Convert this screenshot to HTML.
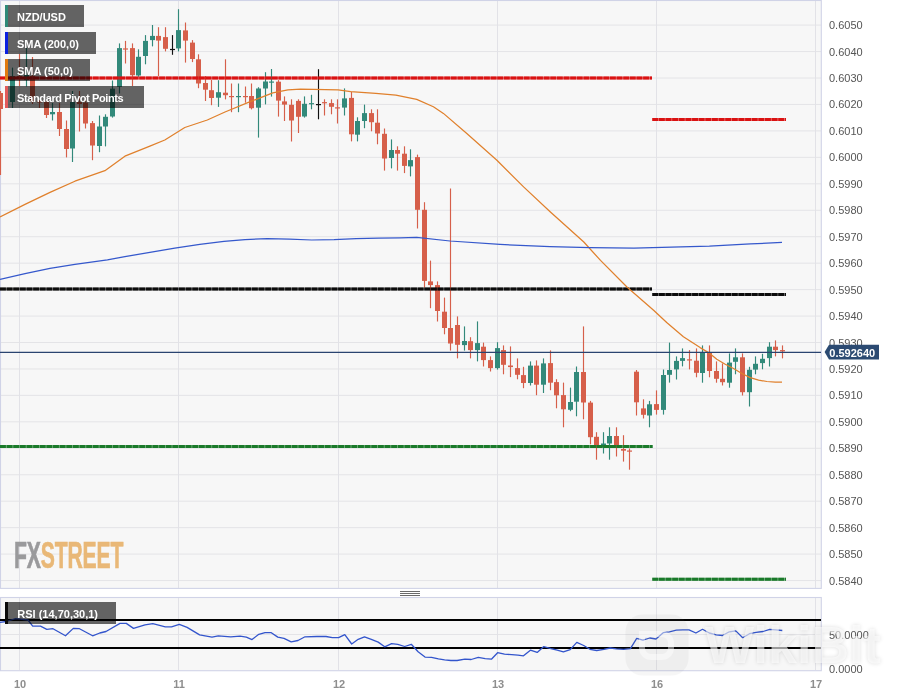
<!DOCTYPE html>
<html><head><meta charset="utf-8"><title>NZD/USD</title>
<style>
html,body{margin:0;padding:0;background:#fff;}
body{width:898px;height:697px;overflow:hidden;position:relative;font-family:"Liberation Sans",Arial,sans-serif;}
svg{position:absolute;left:0;top:0;}
svg text{font-family:"Liberation Sans",Arial,sans-serif;}
.lbl{position:absolute;left:5px;height:21.6px;background:rgba(0,0,0,0.6);color:#fff;font-weight:bold;font-size:11px;line-height:24.6px;box-sizing:border-box;padding-left:12px;white-space:nowrap;}
.lbl i{position:absolute;left:0;top:0;width:3px;height:100%;display:block;}
.fx{position:absolute;left:14.3px;top:537.9px;font-weight:bold;font-size:36px;line-height:36px;-webkit-text-stroke:0.7px;transform:scaleX(0.588);transform-origin:0 0;letter-spacing:-0.3px;white-space:nowrap;}
.wm{position:absolute;left:705px;top:618.6px;font-weight:bold;font-size:52px;line-height:52px;color:rgba(255,255,255,0.6);text-shadow:0 0 4px rgba(0,0,0,0.13);white-space:nowrap;}
</style></head><body>
<svg width="898" height="697" viewBox="0 0 898 697">
<rect x="0" y="0" width="898" height="697" fill="#ffffff"/>
<rect x="0.5" y="0.5" width="821" height="588" fill="#f7f7f7"/>
<rect x="0.5" y="597.5" width="821" height="73" fill="#f7f7f7"/>
<g stroke="#e4e4e7" stroke-width="1"><line x1="0" y1="25.10" x2="821" y2="25.10"/><line x1="0" y1="51.55" x2="821" y2="51.55"/><line x1="0" y1="78.00" x2="821" y2="78.00"/><line x1="0" y1="104.45" x2="821" y2="104.45"/><line x1="0" y1="130.90" x2="821" y2="130.90"/><line x1="0" y1="157.35" x2="821" y2="157.35"/><line x1="0" y1="183.80" x2="821" y2="183.80"/><line x1="0" y1="210.25" x2="821" y2="210.25"/><line x1="0" y1="236.70" x2="821" y2="236.70"/><line x1="0" y1="263.15" x2="821" y2="263.15"/><line x1="0" y1="289.60" x2="821" y2="289.60"/><line x1="0" y1="316.05" x2="821" y2="316.05"/><line x1="0" y1="342.50" x2="821" y2="342.50"/><line x1="0" y1="368.95" x2="821" y2="368.95"/><line x1="0" y1="395.40" x2="821" y2="395.40"/><line x1="0" y1="421.85" x2="821" y2="421.85"/><line x1="0" y1="448.30" x2="821" y2="448.30"/><line x1="0" y1="474.75" x2="821" y2="474.75"/><line x1="0" y1="501.20" x2="821" y2="501.20"/><line x1="0" y1="527.65" x2="821" y2="527.65"/><line x1="0" y1="554.10" x2="821" y2="554.10"/><line x1="0" y1="580.55" x2="821" y2="580.55"/><line x1="0" y1="634.5" x2="821" y2="634.5"/></g>
<g stroke="#e2e2e7" stroke-width="1"><line x1="19.5" y1="1" x2="19.5" y2="588"/><line x1="19.5" y1="598" x2="19.5" y2="670"/><line x1="178.5" y1="1" x2="178.5" y2="588"/><line x1="178.5" y1="598" x2="178.5" y2="670"/><line x1="338.5" y1="1" x2="338.5" y2="588"/><line x1="338.5" y1="598" x2="338.5" y2="670"/><line x1="497.5" y1="1" x2="497.5" y2="588"/><line x1="497.5" y1="598" x2="497.5" y2="670"/><line x1="656.5" y1="1" x2="656.5" y2="588"/><line x1="656.5" y1="598" x2="656.5" y2="670"/><line x1="815.5" y1="1" x2="815.5" y2="588"/><line x1="815.5" y1="598" x2="815.5" y2="670"/></g>
<g fill="none" stroke="#d0d3e7" stroke-width="1.1"><rect x="0.5" y="0.5" width="820.8" height="587.9"/><rect x="0.5" y="597.5" width="820.8" height="73.2"/></g>
<g shape-rendering="auto">
<line x1="0.5" y1="91.0" x2="0.5" y2="175.0" stroke="#d65f4a" stroke-width="1.15"/>
<rect x="-2.0" y="93.0" width="5" height="16.0" fill="#d65f4a"/>
<line x1="12.5" y1="67.6" x2="12.5" y2="108.0" stroke="#32897a" stroke-width="1.15"/>
<rect x="10.0" y="76.0" width="5" height="26.0" fill="#32897a"/>
<line x1="19.5" y1="54.0" x2="19.5" y2="86.0" stroke="#d65f4a" stroke-width="1.15"/>
<rect x="17.0" y="76.0" width="5" height="2.0" fill="#d65f4a"/>
<line x1="26.5" y1="48.0" x2="26.5" y2="86.5" stroke="#32897a" stroke-width="1.15"/>
<rect x="24.0" y="75.0" width="5" height="5.0" fill="#32897a"/>
<line x1="32.5" y1="57.0" x2="32.5" y2="104.0" stroke="#d65f4a" stroke-width="1.15"/>
<rect x="30.0" y="76.0" width="5" height="26.0" fill="#d65f4a"/>
<line x1="39.5" y1="100.0" x2="39.5" y2="108.0" stroke="#d65f4a" stroke-width="1.15"/>
<rect x="37.0" y="101.0" width="5" height="1.5" fill="#d65f4a"/>
<line x1="46.5" y1="100.0" x2="46.5" y2="118.0" stroke="#d65f4a" stroke-width="1.15"/>
<rect x="44.0" y="102.0" width="5" height="13.0" fill="#d65f4a"/>
<line x1="52.5" y1="103.0" x2="52.5" y2="120.5" stroke="#32897a" stroke-width="1.15"/>
<rect x="50.0" y="112.0" width="5" height="2.3" fill="#32897a"/>
<line x1="59.5" y1="103.0" x2="59.5" y2="136.0" stroke="#d65f4a" stroke-width="1.15"/>
<rect x="57.0" y="112.0" width="5" height="17.0" fill="#d65f4a"/>
<line x1="66.5" y1="120.5" x2="66.5" y2="157.4" stroke="#d65f4a" stroke-width="1.15"/>
<rect x="64.0" y="129.0" width="5" height="20.0" fill="#d65f4a"/>
<line x1="72.5" y1="91.0" x2="72.5" y2="162.0" stroke="#32897a" stroke-width="1.15"/>
<rect x="70.0" y="102.0" width="5" height="46.5" fill="#32897a"/>
<line x1="79.5" y1="91.0" x2="79.5" y2="131.5" stroke="#d65f4a" stroke-width="1.15"/>
<rect x="77.0" y="102.0" width="5" height="2.0" fill="#d65f4a"/>
<line x1="85.5" y1="97.6" x2="85.5" y2="128.5" stroke="#d65f4a" stroke-width="1.15"/>
<rect x="83.0" y="102.6" width="5" height="20.9" fill="#d65f4a"/>
<line x1="92.5" y1="121.0" x2="92.5" y2="160.2" stroke="#d65f4a" stroke-width="1.15"/>
<rect x="90.0" y="123.1" width="5" height="22.4" fill="#d65f4a"/>
<line x1="99.5" y1="115.5" x2="99.5" y2="152.2" stroke="#32897a" stroke-width="1.15"/>
<rect x="97.0" y="126.5" width="5" height="19.5" fill="#32897a"/>
<line x1="105.5" y1="114.3" x2="105.5" y2="146.4" stroke="#32897a" stroke-width="1.15"/>
<rect x="103.0" y="116.8" width="5" height="9.7" fill="#32897a"/>
<line x1="112.5" y1="80.5" x2="112.5" y2="117.6" stroke="#32897a" stroke-width="1.15"/>
<rect x="110.0" y="88.7" width="5" height="27.8" fill="#32897a"/>
<line x1="119.5" y1="43.4" x2="119.5" y2="93.5" stroke="#32897a" stroke-width="1.15"/>
<rect x="117.0" y="48.1" width="5" height="38.8" fill="#32897a"/>
<line x1="125.5" y1="40.9" x2="125.5" y2="63.5" stroke="#d65f4a" stroke-width="1.15"/>
<rect x="123.0" y="48.4" width="5" height="1.2" fill="#d65f4a"/>
<line x1="132.5" y1="43.4" x2="132.5" y2="86.0" stroke="#d65f4a" stroke-width="1.15"/>
<rect x="130.0" y="48.1" width="5" height="27.1" fill="#d65f4a"/>
<line x1="138.5" y1="49.3" x2="138.5" y2="76.8" stroke="#32897a" stroke-width="1.15"/>
<rect x="136.0" y="56.8" width="5" height="18.7" fill="#32897a"/>
<line x1="145.5" y1="35.1" x2="145.5" y2="64.3" stroke="#32897a" stroke-width="1.15"/>
<rect x="143.0" y="40.9" width="5" height="15.1" fill="#32897a"/>
<line x1="152.5" y1="25.0" x2="152.5" y2="46.4" stroke="#32897a" stroke-width="1.15"/>
<rect x="150.0" y="35.9" width="5" height="4.2" fill="#32897a"/>
<line x1="158.5" y1="27.2" x2="158.5" y2="76.0" stroke="#d65f4a" stroke-width="1.15"/>
<rect x="156.0" y="35.9" width="5" height="4.7" fill="#d65f4a"/>
<line x1="165.5" y1="27.2" x2="165.5" y2="51.4" stroke="#d65f4a" stroke-width="1.15"/>
<rect x="163.0" y="37.1" width="5" height="11.7" fill="#d65f4a"/>
<line x1="172.5" y1="35.1" x2="172.5" y2="54.8" stroke="#111111" stroke-width="1.15"/>
<rect x="170.0" y="48.9" width="5" height="1.2" fill="#111111"/>
<line x1="178.5" y1="9.2" x2="178.5" y2="51.4" stroke="#32897a" stroke-width="1.15"/>
<rect x="176.0" y="30.1" width="5" height="18.3" fill="#32897a"/>
<line x1="185.5" y1="22.5" x2="185.5" y2="62.6" stroke="#d65f4a" stroke-width="1.15"/>
<rect x="183.0" y="30.4" width="5" height="10.2" fill="#d65f4a"/>
<line x1="192.5" y1="40.1" x2="192.5" y2="62.1" stroke="#d65f4a" stroke-width="1.15"/>
<rect x="190.0" y="42.6" width="5" height="16.4" fill="#d65f4a"/>
<line x1="198.5" y1="54.3" x2="198.5" y2="88.2" stroke="#d65f4a" stroke-width="1.15"/>
<rect x="196.0" y="59.3" width="5" height="24.2" fill="#d65f4a"/>
<line x1="205.5" y1="76.0" x2="205.5" y2="101.0" stroke="#d65f4a" stroke-width="1.15"/>
<rect x="203.0" y="83.0" width="5" height="6.7" fill="#d65f4a"/>
<line x1="211.5" y1="79.8" x2="211.5" y2="105.2" stroke="#d65f4a" stroke-width="1.15"/>
<rect x="209.0" y="90.2" width="5" height="7.8" fill="#d65f4a"/>
<line x1="218.5" y1="80.2" x2="218.5" y2="106.9" stroke="#32897a" stroke-width="1.15"/>
<rect x="216.0" y="92.2" width="5" height="5.5" fill="#32897a"/>
<line x1="225.5" y1="59.3" x2="225.5" y2="99.4" stroke="#d65f4a" stroke-width="1.15"/>
<rect x="223.0" y="92.7" width="5" height="2.5" fill="#d65f4a"/>
<line x1="231.5" y1="83.5" x2="231.5" y2="112.2" stroke="#d65f4a" stroke-width="1.15"/>
<rect x="229.0" y="96.0" width="5" height="1.2" fill="#d65f4a"/>
<line x1="238.5" y1="83.5" x2="238.5" y2="112.2" stroke="#32897a" stroke-width="1.15"/>
<rect x="236.0" y="96.0" width="5" height="1.2" fill="#32897a"/>
<line x1="245.5" y1="86.5" x2="245.5" y2="102.7" stroke="#d65f4a" stroke-width="1.15"/>
<rect x="243.0" y="96.0" width="5" height="1.2" fill="#d65f4a"/>
<line x1="251.5" y1="83.5" x2="251.5" y2="109.4" stroke="#d65f4a" stroke-width="1.15"/>
<rect x="249.0" y="96.0" width="5" height="12.2" fill="#d65f4a"/>
<line x1="258.5" y1="87.2" x2="258.5" y2="137.6" stroke="#32897a" stroke-width="1.15"/>
<rect x="256.0" y="88.5" width="5" height="19.2" fill="#32897a"/>
<line x1="265.5" y1="72.2" x2="265.5" y2="104.4" stroke="#32897a" stroke-width="1.15"/>
<rect x="263.0" y="81.5" width="5" height="7.0" fill="#32897a"/>
<line x1="271.5" y1="69.0" x2="271.5" y2="96.6" stroke="#32897a" stroke-width="1.15"/>
<rect x="269.0" y="81.5" width="5" height="1.2" fill="#32897a"/>
<line x1="278.5" y1="80.1" x2="278.5" y2="116.6" stroke="#d65f4a" stroke-width="1.15"/>
<rect x="276.0" y="81.7" width="5" height="18.9" fill="#d65f4a"/>
<line x1="284.5" y1="96.4" x2="284.5" y2="121.0" stroke="#d65f4a" stroke-width="1.15"/>
<rect x="282.0" y="101.4" width="5" height="3.2" fill="#d65f4a"/>
<line x1="291.5" y1="99.3" x2="291.5" y2="141.5" stroke="#d65f4a" stroke-width="1.15"/>
<rect x="289.0" y="104.8" width="5" height="15.7" fill="#d65f4a"/>
<line x1="298.5" y1="99.3" x2="298.5" y2="133.0" stroke="#d65f4a" stroke-width="1.15"/>
<rect x="296.0" y="100.9" width="5" height="15.9" fill="#d65f4a"/>
<line x1="304.5" y1="96.4" x2="304.5" y2="117.6" stroke="#32897a" stroke-width="1.15"/>
<rect x="302.0" y="103.8" width="5" height="12.7" fill="#32897a"/>
<line x1="311.5" y1="94.8" x2="311.5" y2="109.3" stroke="#32897a" stroke-width="1.15"/>
<rect x="309.0" y="103.1" width="5" height="1.2" fill="#32897a"/>
<line x1="318.5" y1="69.2" x2="318.5" y2="119.3" stroke="#111111" stroke-width="1.15"/>
<rect x="316.0" y="104.0" width="5" height="1.2" fill="#111111"/>
<line x1="324.5" y1="99.3" x2="324.5" y2="115.5" stroke="#d65f4a" stroke-width="1.15"/>
<rect x="322.0" y="102.1" width="5" height="1.2" fill="#d65f4a"/>
<line x1="331.5" y1="99.3" x2="331.5" y2="114.3" stroke="#d65f4a" stroke-width="1.15"/>
<rect x="329.0" y="103.1" width="5" height="3.7" fill="#d65f4a"/>
<line x1="337.5" y1="99.3" x2="337.5" y2="123.5" stroke="#d65f4a" stroke-width="1.15"/>
<rect x="335.0" y="107.3" width="5" height="1.2" fill="#d65f4a"/>
<line x1="344.5" y1="88.4" x2="344.5" y2="115.5" stroke="#32897a" stroke-width="1.15"/>
<rect x="342.0" y="98.4" width="5" height="9.2" fill="#32897a"/>
<line x1="351.5" y1="91.8" x2="351.5" y2="141.4" stroke="#d65f4a" stroke-width="1.15"/>
<rect x="349.0" y="97.9" width="5" height="36.4" fill="#d65f4a"/>
<line x1="357.5" y1="117.3" x2="357.5" y2="141.4" stroke="#32897a" stroke-width="1.15"/>
<rect x="355.0" y="121.0" width="5" height="13.7" fill="#32897a"/>
<line x1="364.5" y1="104.6" x2="364.5" y2="128.2" stroke="#32897a" stroke-width="1.15"/>
<rect x="362.0" y="113.1" width="5" height="7.9" fill="#32897a"/>
<line x1="371.5" y1="109.3" x2="371.5" y2="131.3" stroke="#d65f4a" stroke-width="1.15"/>
<rect x="369.0" y="113.1" width="5" height="9.1" fill="#d65f4a"/>
<line x1="377.5" y1="109.3" x2="377.5" y2="144.3" stroke="#d65f4a" stroke-width="1.15"/>
<rect x="375.0" y="122.7" width="5" height="10.8" fill="#d65f4a"/>
<line x1="384.5" y1="128.5" x2="384.5" y2="170.6" stroke="#d65f4a" stroke-width="1.15"/>
<rect x="382.0" y="133.8" width="5" height="24.7" fill="#d65f4a"/>
<line x1="391.5" y1="139.4" x2="391.5" y2="168.4" stroke="#32897a" stroke-width="1.15"/>
<rect x="389.0" y="150.0" width="5" height="8.0" fill="#32897a"/>
<line x1="397.5" y1="146.3" x2="397.5" y2="170.6" stroke="#d65f4a" stroke-width="1.15"/>
<rect x="395.0" y="150.0" width="5" height="3.7" fill="#d65f4a"/>
<line x1="404.5" y1="146.3" x2="404.5" y2="173.1" stroke="#d65f4a" stroke-width="1.15"/>
<rect x="402.0" y="153.7" width="5" height="12.2" fill="#d65f4a"/>
<line x1="410.5" y1="149.3" x2="410.5" y2="176.4" stroke="#32897a" stroke-width="1.15"/>
<rect x="408.0" y="160.1" width="5" height="6.3" fill="#32897a"/>
<line x1="417.5" y1="154.6" x2="417.5" y2="228.5" stroke="#d65f4a" stroke-width="1.15"/>
<rect x="415.0" y="157.1" width="5" height="52.7" fill="#d65f4a"/>
<line x1="424.5" y1="202.2" x2="424.5" y2="287.6" stroke="#d65f4a" stroke-width="1.15"/>
<rect x="422.0" y="209.8" width="5" height="71.1" fill="#d65f4a"/>
<line x1="430.5" y1="260.6" x2="430.5" y2="308.2" stroke="#d65f4a" stroke-width="1.15"/>
<rect x="428.0" y="281.4" width="5" height="3.7" fill="#d65f4a"/>
<line x1="437.5" y1="281.4" x2="437.5" y2="321.5" stroke="#d65f4a" stroke-width="1.15"/>
<rect x="435.0" y="285.1" width="5" height="25.9" fill="#d65f4a"/>
<line x1="444.5" y1="297.6" x2="444.5" y2="334.3" stroke="#d65f4a" stroke-width="1.15"/>
<rect x="442.0" y="311.7" width="5" height="16.3" fill="#d65f4a"/>
<line x1="450.5" y1="188.5" x2="450.5" y2="350.6" stroke="#d65f4a" stroke-width="1.15"/>
<rect x="448.0" y="328.0" width="5" height="15.5" fill="#d65f4a"/>
<line x1="457.5" y1="316.4" x2="457.5" y2="358.4" stroke="#d65f4a" stroke-width="1.15"/>
<rect x="455.0" y="325.0" width="5" height="19.8" fill="#d65f4a"/>
<line x1="464.5" y1="326.4" x2="464.5" y2="350.6" stroke="#32897a" stroke-width="1.15"/>
<rect x="462.0" y="341.0" width="5" height="4.1" fill="#32897a"/>
<line x1="470.5" y1="337.2" x2="470.5" y2="358.4" stroke="#d65f4a" stroke-width="1.15"/>
<rect x="468.0" y="341.2" width="5" height="8.9" fill="#d65f4a"/>
<line x1="477.5" y1="321.4" x2="477.5" y2="361.4" stroke="#32897a" stroke-width="1.15"/>
<rect x="475.0" y="343.1" width="5" height="7.0" fill="#32897a"/>
<line x1="483.5" y1="342.6" x2="483.5" y2="366.5" stroke="#d65f4a" stroke-width="1.15"/>
<rect x="481.0" y="346.7" width="5" height="13.4" fill="#d65f4a"/>
<line x1="490.5" y1="356.4" x2="490.5" y2="371.5" stroke="#d65f4a" stroke-width="1.15"/>
<rect x="488.0" y="360.1" width="5" height="8.0" fill="#d65f4a"/>
<line x1="497.5" y1="342.2" x2="497.5" y2="369.6" stroke="#32897a" stroke-width="1.15"/>
<rect x="495.0" y="348.1" width="5" height="20.0" fill="#32897a"/>
<line x1="503.5" y1="345.4" x2="503.5" y2="374.3" stroke="#d65f4a" stroke-width="1.15"/>
<rect x="501.0" y="350.1" width="5" height="14.7" fill="#d65f4a"/>
<line x1="510.5" y1="346.4" x2="510.5" y2="377.1" stroke="#d65f4a" stroke-width="1.15"/>
<rect x="508.0" y="365.5" width="5" height="1.6" fill="#d65f4a"/>
<line x1="517.5" y1="358.4" x2="517.5" y2="379.3" stroke="#d65f4a" stroke-width="1.15"/>
<rect x="515.0" y="368.1" width="5" height="6.7" fill="#d65f4a"/>
<line x1="523.5" y1="366.8" x2="523.5" y2="388.2" stroke="#d65f4a" stroke-width="1.15"/>
<rect x="521.0" y="375.1" width="5" height="7.9" fill="#d65f4a"/>
<line x1="530.5" y1="361.4" x2="530.5" y2="385.5" stroke="#32897a" stroke-width="1.15"/>
<rect x="528.0" y="365.6" width="5" height="17.4" fill="#32897a"/>
<line x1="536.5" y1="360.4" x2="536.5" y2="395.2" stroke="#d65f4a" stroke-width="1.15"/>
<rect x="534.0" y="365.6" width="5" height="19.1" fill="#d65f4a"/>
<line x1="543.5" y1="358.4" x2="543.5" y2="393.0" stroke="#32897a" stroke-width="1.15"/>
<rect x="541.0" y="363.4" width="5" height="21.3" fill="#32897a"/>
<line x1="550.5" y1="350.4" x2="550.5" y2="390.2" stroke="#d65f4a" stroke-width="1.15"/>
<rect x="548.0" y="363.1" width="5" height="19.6" fill="#d65f4a"/>
<line x1="556.5" y1="379.2" x2="556.5" y2="408.3" stroke="#d65f4a" stroke-width="1.15"/>
<rect x="554.0" y="382.1" width="5" height="13.2" fill="#d65f4a"/>
<line x1="563.5" y1="382.6" x2="563.5" y2="427.3" stroke="#d65f4a" stroke-width="1.15"/>
<rect x="561.0" y="395.1" width="5" height="14.2" fill="#d65f4a"/>
<line x1="570.5" y1="387.6" x2="570.5" y2="411.2" stroke="#32897a" stroke-width="1.15"/>
<rect x="568.0" y="402.0" width="5" height="7.8" fill="#32897a"/>
<line x1="576.5" y1="366.5" x2="576.5" y2="416.3" stroke="#32897a" stroke-width="1.15"/>
<rect x="574.0" y="372.0" width="5" height="29.7" fill="#32897a"/>
<line x1="583.5" y1="326.4" x2="583.5" y2="419.3" stroke="#d65f4a" stroke-width="1.15"/>
<rect x="581.0" y="372.0" width="5" height="30.5" fill="#d65f4a"/>
<line x1="590.5" y1="400.9" x2="590.5" y2="444.3" stroke="#d65f4a" stroke-width="1.15"/>
<rect x="588.0" y="402.6" width="5" height="34.6" fill="#d65f4a"/>
<line x1="596.5" y1="432.2" x2="596.5" y2="459.7" stroke="#d65f4a" stroke-width="1.15"/>
<rect x="594.0" y="436.8" width="5" height="8.4" fill="#d65f4a"/>
<line x1="603.5" y1="432.2" x2="603.5" y2="453.5" stroke="#32897a" stroke-width="1.15"/>
<rect x="601.0" y="443.5" width="5" height="3.4" fill="#32897a"/>
<line x1="609.5" y1="427.3" x2="609.5" y2="459.7" stroke="#32897a" stroke-width="1.15"/>
<rect x="607.0" y="436.0" width="5" height="7.5" fill="#32897a"/>
<line x1="616.5" y1="427.3" x2="616.5" y2="456.5" stroke="#d65f4a" stroke-width="1.15"/>
<rect x="614.0" y="436.0" width="5" height="11.7" fill="#d65f4a"/>
<line x1="623.5" y1="435.2" x2="623.5" y2="461.6" stroke="#d65f4a" stroke-width="1.15"/>
<rect x="621.0" y="449.0" width="5" height="1.7" fill="#d65f4a"/>
<line x1="629.5" y1="448.5" x2="629.5" y2="469.7" stroke="#d65f4a" stroke-width="1.15"/>
<rect x="627.0" y="450.5" width="5" height="1.2" fill="#d65f4a"/>
<line x1="636.5" y1="370.0" x2="636.5" y2="415.5" stroke="#d65f4a" stroke-width="1.15"/>
<rect x="634.0" y="371.7" width="5" height="30.6" fill="#d65f4a"/>
<line x1="643.5" y1="399.3" x2="643.5" y2="418.5" stroke="#d65f4a" stroke-width="1.15"/>
<rect x="641.0" y="408.4" width="5" height="6.4" fill="#d65f4a"/>
<line x1="649.5" y1="400.9" x2="649.5" y2="427.3" stroke="#32897a" stroke-width="1.15"/>
<rect x="647.0" y="404.3" width="5" height="11.2" fill="#32897a"/>
<line x1="656.5" y1="390.4" x2="656.5" y2="414.6" stroke="#d65f4a" stroke-width="1.15"/>
<rect x="654.0" y="404.1" width="5" height="5.8" fill="#d65f4a"/>
<line x1="663.5" y1="369.5" x2="663.5" y2="414.6" stroke="#32897a" stroke-width="1.15"/>
<rect x="661.0" y="375.0" width="5" height="34.9" fill="#32897a"/>
<line x1="669.5" y1="342.6" x2="669.5" y2="382.6" stroke="#32897a" stroke-width="1.15"/>
<rect x="667.0" y="370.0" width="5" height="4.8" fill="#32897a"/>
<line x1="676.5" y1="356.4" x2="676.5" y2="379.5" stroke="#32897a" stroke-width="1.15"/>
<rect x="674.0" y="360.9" width="5" height="8.5" fill="#32897a"/>
<line x1="682.5" y1="348.4" x2="682.5" y2="366.4" stroke="#32897a" stroke-width="1.15"/>
<rect x="680.0" y="358.1" width="5" height="2.8" fill="#32897a"/>
<line x1="689.5" y1="350.1" x2="689.5" y2="369.4" stroke="#d65f4a" stroke-width="1.15"/>
<rect x="687.0" y="359.3" width="5" height="1.2" fill="#d65f4a"/>
<line x1="696.5" y1="348.4" x2="696.5" y2="377.3" stroke="#d65f4a" stroke-width="1.15"/>
<rect x="694.0" y="360.7" width="5" height="12.1" fill="#d65f4a"/>
<line x1="702.5" y1="345.4" x2="702.5" y2="382.7" stroke="#32897a" stroke-width="1.15"/>
<rect x="700.0" y="352.6" width="5" height="20.4" fill="#32897a"/>
<line x1="709.5" y1="345.4" x2="709.5" y2="377.3" stroke="#d65f4a" stroke-width="1.15"/>
<rect x="707.0" y="352.6" width="5" height="18.4" fill="#d65f4a"/>
<line x1="716.5" y1="361.4" x2="716.5" y2="382.7" stroke="#d65f4a" stroke-width="1.15"/>
<rect x="714.0" y="371.0" width="5" height="7.8" fill="#d65f4a"/>
<line x1="722.5" y1="363.4" x2="722.5" y2="385.5" stroke="#d65f4a" stroke-width="1.15"/>
<rect x="720.0" y="378.8" width="5" height="3.4" fill="#d65f4a"/>
<line x1="729.5" y1="353.4" x2="729.5" y2="387.7" stroke="#32897a" stroke-width="1.15"/>
<rect x="727.0" y="362.6" width="5" height="20.1" fill="#32897a"/>
<line x1="735.5" y1="348.4" x2="735.5" y2="374.3" stroke="#32897a" stroke-width="1.15"/>
<rect x="733.0" y="357.3" width="5" height="4.5" fill="#32897a"/>
<line x1="742.5" y1="353.4" x2="742.5" y2="395.5" stroke="#d65f4a" stroke-width="1.15"/>
<rect x="740.0" y="357.3" width="5" height="34.9" fill="#d65f4a"/>
<line x1="749.5" y1="366.8" x2="749.5" y2="406.5" stroke="#32897a" stroke-width="1.15"/>
<rect x="747.0" y="369.8" width="5" height="22.4" fill="#32897a"/>
<line x1="755.5" y1="356.4" x2="755.5" y2="374.3" stroke="#32897a" stroke-width="1.15"/>
<rect x="753.0" y="363.8" width="5" height="5.8" fill="#32897a"/>
<line x1="762.5" y1="353.8" x2="762.5" y2="369.3" stroke="#32897a" stroke-width="1.15"/>
<rect x="760.0" y="358.8" width="5" height="4.3" fill="#32897a"/>
<line x1="769.5" y1="342.2" x2="769.5" y2="366.5" stroke="#32897a" stroke-width="1.15"/>
<rect x="767.0" y="346.7" width="5" height="11.4" fill="#32897a"/>
<line x1="775.5" y1="340.4" x2="775.5" y2="356.4" stroke="#d65f4a" stroke-width="1.15"/>
<rect x="773.0" y="346.7" width="5" height="3.4" fill="#d65f4a"/>
<line x1="782.5" y1="345.4" x2="782.5" y2="358.4" stroke="#d65f4a" stroke-width="1.15"/>
<rect x="780.0" y="350.1" width="5" height="1.3" fill="#d65f4a"/>
</g>
<!-- pivots -->
<g fill="none" stroke-width="3" opacity="0.5">
<line x1="0" y1="78.1" x2="652" y2="78.1" stroke="#da1212"/>
<line x1="652.3" y1="119.4" x2="786" y2="119.4" stroke="#da1212"/>
<line x1="0" y1="289.1" x2="652" y2="289.1" stroke="#0c0c0c"/>
<line x1="652.3" y1="294.4" x2="786" y2="294.4" stroke="#0c0c0c"/>
<line x1="0" y1="446.4" x2="652.6" y2="446.4" stroke="#1a7a2a"/>
<line x1="652.3" y1="579.3" x2="786" y2="579.3" stroke="#1a7a2a"/>
</g>
<g fill="none" stroke-width="3" stroke-dasharray="5.9 0.73">
<line x1="0" y1="78.1" x2="652" y2="78.1" stroke="#da1212"/>
<line x1="652.3" y1="119.4" x2="786" y2="119.4" stroke="#da1212"/>
<line x1="0" y1="289.1" x2="652" y2="289.1" stroke="#0c0c0c"/>
<line x1="652.3" y1="294.4" x2="786" y2="294.4" stroke="#0c0c0c"/>
<line x1="0" y1="446.4" x2="652.6" y2="446.4" stroke="#1a7a2a"/>
<line x1="652.3" y1="579.3" x2="786" y2="579.3" stroke="#1a7a2a"/>
</g>
<polyline fill="none" stroke="#e0802c" stroke-width="1.25" stroke-linejoin="round" points="0.0,216.9 25.0,204.4 50.0,192.4 74.9,181.2 104.9,170.7 124.9,156.2 149.9,146.2 164.8,140.0 184.8,127.5 207.3,120.0 225.0,112.0 250.2,101.7 272.8,92.9 287.9,89.9 300.5,89.2 325.6,89.7 338.1,89.9 350.7,91.7 375.8,93.4 395.9,95.2 416.7,99.4 433.4,106.7 443.4,113.4 466.8,133.5 496.9,160.2 523.6,186.9 550.4,212.0 583.8,242.0 600.5,260.4 627.2,287.2 653.6,310.2 666.7,322.5 683.4,336.7 700.1,347.6 708.5,352.6 716.8,359.3 725.2,364.3 733.5,368.5 741.9,373.5 750.2,377.6 758.6,380.2 766.9,381.5 775.3,382.2 782.0,382.2"/>
<polyline fill="none" stroke="#3558cc" stroke-width="1.25" stroke-linejoin="round" points="0.0,279.3 25.0,273.6 50.0,268.4 74.9,264.4 107.4,259.9 124.9,256.6 149.9,252.4 174.8,248.1 199.8,244.4 224.0,241.4 245.0,239.6 267.3,238.7 289.5,239.1 311.8,240.0 334.1,239.6 356.3,238.7 378.6,238.2 400.0,237.8 416.7,237.3 450.0,241.0 500.0,244.4 550.0,246.7 590.0,247.7 634.0,248.2 671.5,247.2 709.4,246.2 750.4,243.9 782.0,242.4"/>
<line x1="0" y1="352.3" x2="821" y2="352.3" stroke="#2a4470" stroke-width="1.2"/>
<!-- RSI -->
<line x1="0" y1="620" x2="821" y2="620" stroke="#000" stroke-width="2.2"/>
<line x1="0" y1="648" x2="821" y2="648" stroke="#000" stroke-width="2.2"/>
<polyline fill="none" stroke="#3355cc" stroke-width="1.3" stroke-linejoin="round" points="0.0,622.4 6.2,621.5 15.6,618.7 28.0,620.0 32.7,626.2 40.5,626.2 46.8,629.3 53.0,628.7 65.5,635.8 73.3,628.4 79.5,628.7 92.6,635.8 99.8,633.0 106.0,631.5 120.0,623.4 126.3,623.4 133.5,628.4 145.0,624.9 152.8,623.7 165.3,626.8 171.5,626.8 179.3,624.3 187.1,627.4 199.6,634.9 212.0,637.1 218.3,635.8 230.7,636.8 240.1,636.2 246.3,637.1 252.0,639.6 258.8,634.3 265.0,632.7 271.3,632.7 277.8,637.1 284.0,638.3 291.2,641.8 298.0,640.5 305.0,636.8 316.8,636.5 326.0,636.5 332.4,637.7 338.6,637.7 344.8,634.6 351.7,644.0 358.2,639.3 364.5,636.8 371.3,639.3 378.2,642.1 384.7,646.8 391.6,643.6 397.8,644.3 404.7,646.5 411.3,644.3 418.1,651.8 425.0,657.1 431.5,657.4 438.4,658.9 444.6,659.9 450.9,660.5 457.1,660.5 464.9,659.2 471.1,659.5 478.3,657.4 485.2,658.6 491.4,659.2 497.6,652.7 504.5,654.2 511.7,654.6 517.9,655.2 523.5,655.8 530.4,650.2 537.2,652.4 543.8,646.6 550.9,648.6 557.2,650.2 563.4,651.8 570.2,649.6 576.8,642.4 583.7,645.5 589.9,649.3 596.7,650.5 603.9,649.3 610.2,648.0 616.4,648.9 623.6,649.3 630.4,648.6 636.7,638.3 642.9,640.2 649.8,638.0 656.0,639.0 663.2,632.7 669.4,631.8 676.3,630.2 682.8,629.9 689.0,629.9 695.9,633.0 702.5,629.3 709.3,633.0 716.2,634.9 722.4,635.5 729.3,631.8 735.8,630.9 742.7,637.7 749.5,633.7 756.1,632.4 763.0,631.5 769.8,629.3 776.0,629.9 782.3,630.5"/>
<!-- pane handle -->
<g stroke="#6a6a6a" stroke-width="1" shape-rendering="crispEdges"><line x1="400" y1="591.5" x2="420" y2="591.5"/><line x1="400" y1="593.5" x2="420" y2="593.5"/><line x1="400" y1="595.5" x2="420" y2="595.5"/></g>
<!-- axis labels -->
<g font-size="11" fill="#555"><text x="829" y="29.1">0.6050</text><text x="829" y="55.5">0.6040</text><text x="829" y="82.0">0.6030</text><text x="829" y="108.4">0.6020</text><text x="829" y="134.9">0.6010</text><text x="829" y="161.3">0.6000</text><text x="829" y="187.8">0.5990</text><text x="829" y="214.2">0.5980</text><text x="829" y="240.7">0.5970</text><text x="829" y="267.1">0.5960</text><text x="829" y="293.6">0.5950</text><text x="829" y="320.1">0.5940</text><text x="829" y="346.5">0.5930</text><text x="829" y="372.9">0.5920</text><text x="829" y="399.4">0.5910</text><text x="829" y="425.9">0.5900</text><text x="829" y="452.3">0.5890</text><text x="829" y="478.8">0.5880</text><text x="829" y="505.2">0.5870</text><text x="829" y="531.6">0.5860</text><text x="829" y="558.1">0.5850</text><text x="829" y="584.5">0.5840</text><text x="829" y="639">50.0000</text><text x="829" y="673">0.0000</text></g>
<g font-size="11" font-weight="bold" fill="#8e8e8e"><text x="20.0" y="688" text-anchor="middle">10</text><text x="179.0" y="688" text-anchor="middle">11</text><text x="339.0" y="688" text-anchor="middle">12</text><text x="498.0" y="688" text-anchor="middle">13</text><text x="657.0" y="688" text-anchor="middle">16</text><text x="816.0" y="688" text-anchor="middle">17</text></g>
<!-- price tag -->
<path d="M824.6 352.1 L829 344.8 L879 344.8 L879 359.5 L829 359.5 Z" fill="#2b4a72"/>
<text x="829.3" y="357" font-size="11" font-weight="bold" fill="#fff">0.592640</text>
<!-- watermark logo -->
<g><rect x="625.5" y="614.5" width="63" height="61" rx="17" fill="#808080" fill-opacity="0.07"/><path d="M642 634 h20 a9 9 0 0 1 9 9 v5 a9 9 0 0 1 -9 9 h-11 a9 9 0 0 1 -9 -9 z" fill="none" stroke="#fff" stroke-opacity="0.45" stroke-width="6"/></g>
</svg>
<div class="lbl" style="top:5px;width:78.8px"><i style="background:#2f8a78"></i>NZD/USD</div>
<div class="lbl" style="top:32px;width:90.9px"><i style="background:#0a1fe0"></i>SMA (200,0)</div>
<div class="lbl" style="top:59.1px;width:84.9px"><i style="background:#e07a10"></i>SMA (50,0)</div>
<div class="lbl" style="top:86.2px;width:139px"><i style="background:#e25a5a"></i><span style="letter-spacing:-0.38px">Standard Pivot Points</span></div>
<div class="lbl" style="top:602.2px;left:5.3px;width:110.7px"><i style="background:#0a0a0a"></i>RSI (14,70,30,1)</div>
<div class="fx"><span style="color:#9a9a9c">FX</span><span style="color:#e9b877">STREET</span></div>
<div class="wm">WikiBit</div>
</body></html>
